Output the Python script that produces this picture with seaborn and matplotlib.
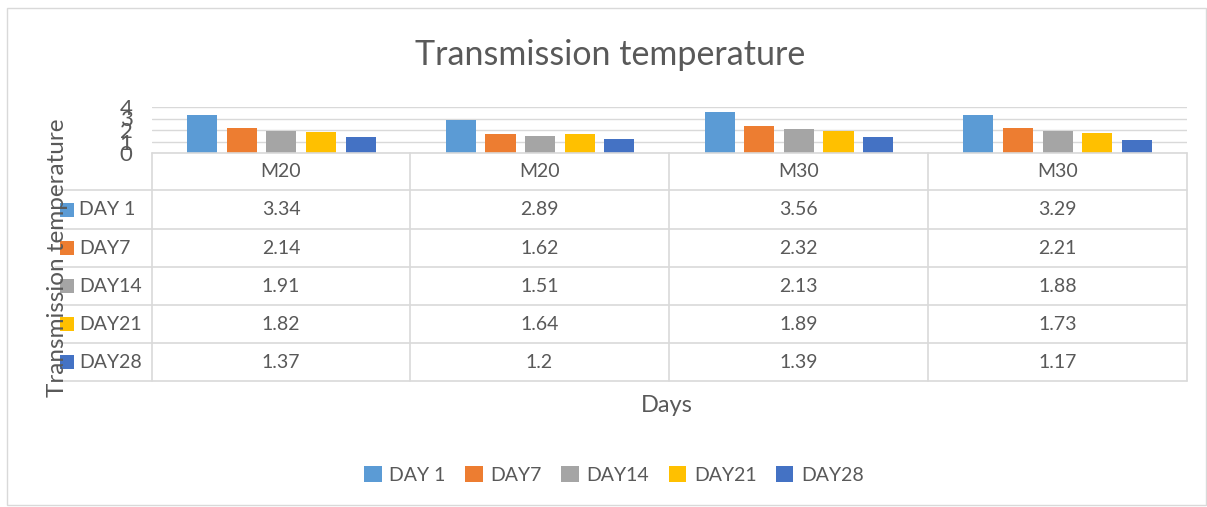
import matplotlib
matplotlib.use("Agg")
import matplotlib.pyplot as plt
import seaborn as sns
import pandas as pd
from matplotlib.patches import Rectangle
from matplotlib.lines import Line2D

categories = ["M20", "M20", "M30", "M30"]
series = ["DAY 1", "DAY7", "DAY14", "DAY21", "DAY28"]
day1 = [3.34, 2.89, 3.56, 3.29]
day7 = [2.14, 1.62, 2.32, 2.21]
day14 = [1.91, 1.51, 2.13, 1.88]
day21 = [1.82, 1.64, 1.89, 1.73]
day28 = [1.37, 1.2, 1.39, 1.17]
values = [day1, day7, day14, day21, day28]
labels_text = [["3.34", "2.89", "3.56", "3.29"],
               ["2.14", "1.62", "2.32", "2.21"],
               ["1.91", "1.51", "2.13", "1.88"],
               ["1.82", "1.64", "1.89", "1.73"],
               ["1.37", "1.2", "1.39", "1.17"]]
colors = ["#5B9BD5", "#ED7D31", "#A5A5A5", "#FFC000", "#4472C4"]

sns.set_theme(style="white")
plt.rcParams['font.family'] = ['Lato', 'DejaVu Sans']
TXT = "#595959"
GRID = "#D9D9D9"

rows = []
for s, vals in zip(series, values):
    for i, v in enumerate(vals):
        rows.append({"slot": i, "day": s, "value": v})
df = pd.DataFrame(rows)

W, H = 1207, 507
fig = plt.figure(figsize=(W / 100, H / 100), dpi=100)

def fx(px):
    return px / W

def fy(py):
    return 1 - py / H

# outer chart border
fig.patches.append(Rectangle((fx(7), fy(505)), fx(1199), fy(8) - fy(505),
                             transform=fig.transFigure, fill=False,
                             edgecolor=GRID, linewidth=1))

left, right, top, bottom = 152, 1187, 107, 153
ax = fig.add_axes([fx(left), fy(bottom), fx(right - left), fy(top) - fy(bottom)])
sns.barplot(data=df, x="slot", y="value", hue="day", hue_order=series,
            palette=colors, width=0.765, gap=0.24, ax=ax, legend=False,
            saturation=1, edgecolor="none")
ax.set_ylim(0, 4)
ax.set_xlim(-0.5, 3.5)
ax.set_yticks([0, 1, 2, 3, 4])
ax.set_yticklabels(["0", "1", "2", "3", "4"], fontsize=16, color=TXT)
ax.tick_params(axis="y", length=0, pad=14)
ax.set_xticks([])
ax.set_xlabel("")
ax.set_ylabel("")
for sp in ax.spines.values():
    sp.set_visible(False)
ax.yaxis.grid(True, color=GRID, linewidth=1)
ax.set_axisbelow(True)

# data table
row_edges = [153, 190, 229, 267, 305, 343, 381]
col_edges = [152, 410, 669, 928, 1187]
lw = 1.2
for j, y in enumerate(row_edges):
    x0 = left if j == 0 else 55
    fig.add_artist(Line2D([fx(x0), fx(right)], [fy(y), fy(y)],
                          transform=fig.transFigure, color=GRID, linewidth=lw))
for x in col_edges:
    fig.add_artist(Line2D([fx(x), fx(x)], [fy(row_edges[0]), fy(row_edges[-1])],
                          transform=fig.transFigure, color=GRID, linewidth=lw))

FS = 14
for i, c in enumerate(categories):
    cx = (col_edges[i] + col_edges[i + 1]) / 2
    cy = (row_edges[0] + row_edges[1]) / 2
    fig.text(fx(cx), fy(cy), c, ha="center", va="center", fontsize=FS, color=TXT)

for r, s in enumerate(series):
    cy = (row_edges[r + 1] + row_edges[r + 2]) / 2
    fig.patches.append(Rectangle((fx(60), fy(cy + 7)), fx(14), fy(cy - 7) - fy(cy + 7),
                                 transform=fig.transFigure, facecolor=colors[r],
                                 edgecolor="none"))
    fig.text(fx(79), fy(cy), s, ha="left", va="center", fontsize=FS, color=TXT)
    for i in range(len(categories)):
        cx = (col_edges[i] + col_edges[i + 1]) / 2
        fig.text(fx(cx), fy(cy), labels_text[r][i], ha="center", va="center",
                 fontsize=FS, color=TXT)

# titles
fig.text(fx(610), fy(55), "Transmission temperature", ha="center", va="center",
         fontsize=24.5, color=TXT)
fig.text(fx(667), fy(405), "Days", ha="center", va="center", fontsize=17, color=TXT)
fig.text(fx(58), fy(258), "Transmission temperature", ha="center", va="center",
         rotation=90, fontsize=17.5, color=TXT)

# legend
handles = [Rectangle((0, 0), 1, 1, facecolor=c, edgecolor="none") for c in colors]
fig.legend(handles, series, loc="center", bbox_to_anchor=(fx(614), fy(475)),
           ncol=5, frameon=False, fontsize=FS, labelcolor=TXT,
           handlelength=0.9, handleheight=0.9, handletextpad=0.4, columnspacing=1.0)

fig.savefig("out.png", dpi=100, facecolor="white")
